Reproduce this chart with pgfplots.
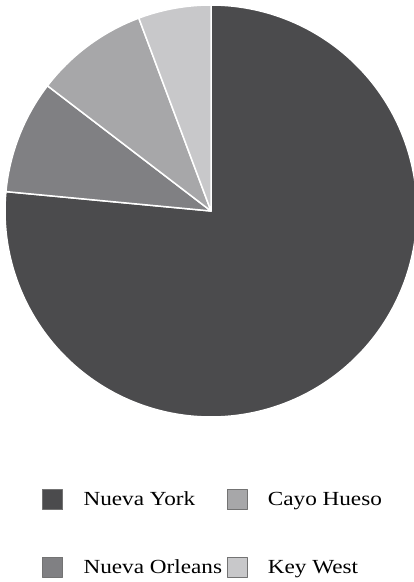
\documentclass[border=0pt]{standalone}
\usepackage{pgfplots}
\pgfplotsset{compat=1.18}
\usepackage{pgfplotstable}
\usepackage{fontspec}
\setmainfont{Liberation Serif}[FakeStretch=1.16]
\definecolor{cNY}{HTML}{4B4B4D}
\definecolor{cNO}{HTML}{808083}
\definecolor{cCH}{HTML}{A7A7A9}
\definecolor{cKW}{HTML}{C8C8CA}
\pgfplotstableread{
city value
NuevaYork 76.5
NuevaOrleans 8.9
CayoHueso 8.9
KeyWest 5.7
}\piedata
\begin{document}
\begin{tikzpicture}
\pgfplotstablegetelem{0}{value}\of\piedata \let\vA\pgfplotsretval
\pgfplotstablegetelem{1}{value}\of\piedata \let\vB\pgfplotsretval
\pgfplotstablegetelem{2}{value}\of\piedata \let\vC\pgfplotsretval
\pgfplotstablegetelem{3}{value}\of\piedata \let\vD\pgfplotsretval
\pgfmathsetmacro\aA{90}
\pgfmathsetmacro\aB{\aA-3.6*\vA}
\pgfmathsetmacro\aC{\aB-3.6*\vB}
\pgfmathsetmacro\aD{\aC-3.6*\vC}
\pgfmathsetmacro\aE{\aD-3.6*\vD}
\path[use as bounding box] (0pt,0pt) rectangle (414pt,582pt);
\begin{axis}[at={(211pt,371pt)}, anchor=center, width=412pt, height=412pt, scale only axis,
 xmin=-1,xmax=1,ymin=-1,ymax=1, hide axis, clip=false,
 legend columns=2, transpose legend, legend cell align=left,
 legend style={at={(0.09,-0.175)}, anchor=north west, draw=none, fill=none, inner sep=0pt,
   font=\fontsize{20}{24}\selectfont, row sep=47pt},
 legend image code/.code={\draw[#1,draw=black!55,line width=0.6pt] (0pt,-10pt) rectangle (20pt,10pt);
   \path[draw=none,fill=none] (0pt,0pt) -- (39pt,0pt);},
]
\addplot[fill=cNY, draw=white, line width=1.5pt, line join=round, domain=\aB:\aA, samples=181, variable=\t] ({cos(\t)},{sin(\t)}) -- (0,0) -- cycle;
\addlegendentry{\makebox[141pt][l]{Nueva York}}
\addplot[fill=cNO, draw=white, line width=1.5pt, line join=round, domain=\aC:\aB, samples=30, variable=\t] ({cos(\t)},{sin(\t)}) -- (0,0) -- cycle;
\addlegendentry{\makebox[141pt][l]{Nueva Orleans}}
\addplot[fill=cCH, draw=white, line width=1.5pt, line join=round, domain=\aD:\aC, samples=30, variable=\t] ({cos(\t)},{sin(\t)}) -- (0,0) -- cycle;
\addlegendentry{Cayo Hueso}
\addplot[fill=cKW, draw=white, line width=1.5pt, line join=round, domain=\aE:\aD, samples=30, variable=\t] ({cos(\t)},{sin(\t)}) -- (0,0) -- cycle;
\addlegendentry{Key West}
\end{axis}
\end{tikzpicture}
\end{document}
